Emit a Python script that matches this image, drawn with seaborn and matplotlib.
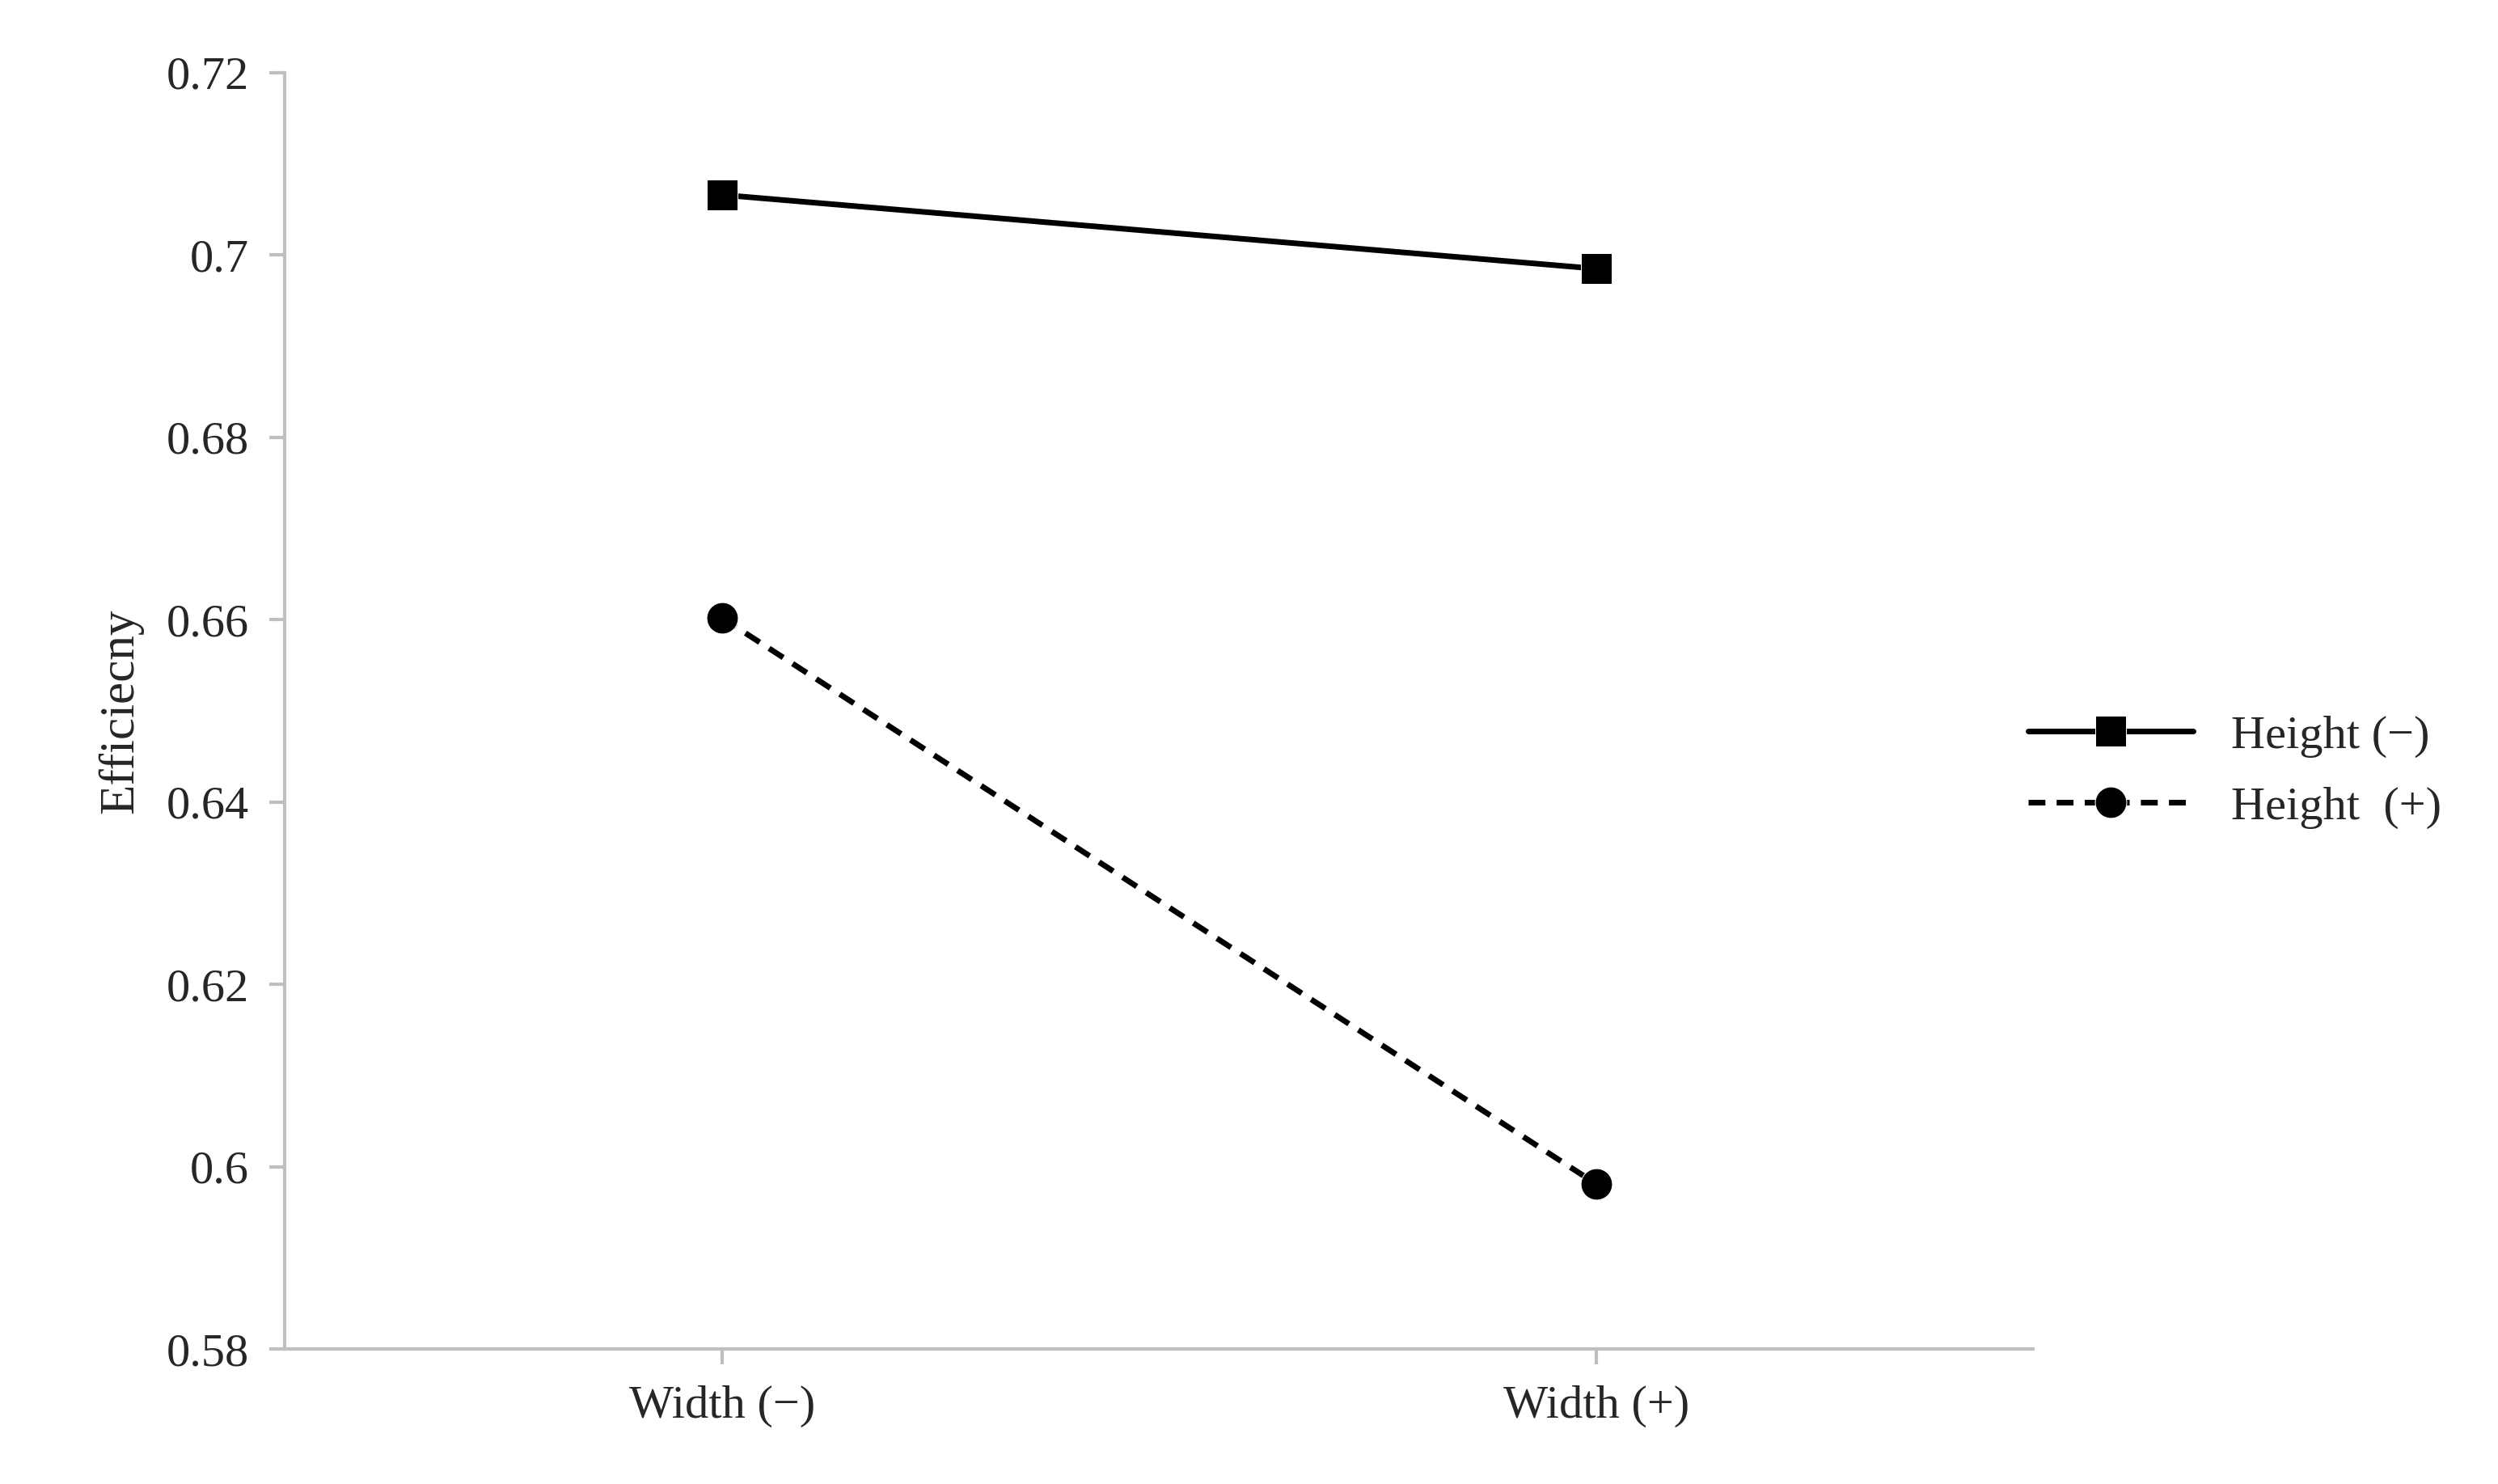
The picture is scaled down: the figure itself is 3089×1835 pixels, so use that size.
import pandas as pd
import matplotlib.pyplot as plt
import seaborn as sns

categories = ['Width (\u2212)', 'Width (+)']
height_minus = [0.7066, 0.6985]
height_plus = [0.6602, 0.5981]
series_names = ['Height (\u2212)', 'Height  (+)']

sns.set_style('white')
plt.rcParams['font.family'] = ['Liberation Serif', 'DejaVu Serif']

fig = plt.figure(figsize=(30.89, 18.35), dpi=100)
ax = fig.add_axes([0.114, 0.091, 0.70, 0.86])

x = list(range(len(categories)))
sns.lineplot(x=x, y=height_minus, ax=ax, color='black', lw=5, marker='s',
             markersize=28, label=series_names[0])
sns.lineplot(x=x, y=height_plus, ax=ax, color='black', lw=5, marker='o',
             markersize=28, linestyle=(0, (3, 2)), label=series_names[1])

ax.set_xlim(-0.5, 1.5)
ax.set_ylim(0.58, 0.72)
ax.set_yticks([0.58, 0.6, 0.62, 0.64, 0.66, 0.68, 0.7, 0.72])
ax.set_yticklabels(['0.58', '0.6', '0.62', '0.64', '0.66', '0.68', '0.7', '0.72'])
ax.set_xticks(x)
ax.set_xticklabels(categories)
ax.set_ylabel('Efficiecny', fontsize=44, labelpad=20)
ax.tick_params(axis='both', labelsize=42, direction='out', length=14,
               width=3, color='#bfbfbf', bottom=True, left=True, pad=18)
for s in ['top', 'right']:
    ax.spines[s].set_visible(False)
for s in ['left', 'bottom']:
    ax.spines[s].set_color('#bfbfbf')
    ax.spines[s].set_linewidth(3)

ax.legend(loc='center left', bbox_to_anchor=(0.795, 0.48), bbox_transform=fig.transFigure,
          frameon=False, fontsize=42, handlelength=3.5, labelspacing=0.6)

fig.savefig('out.png', dpi=100)
